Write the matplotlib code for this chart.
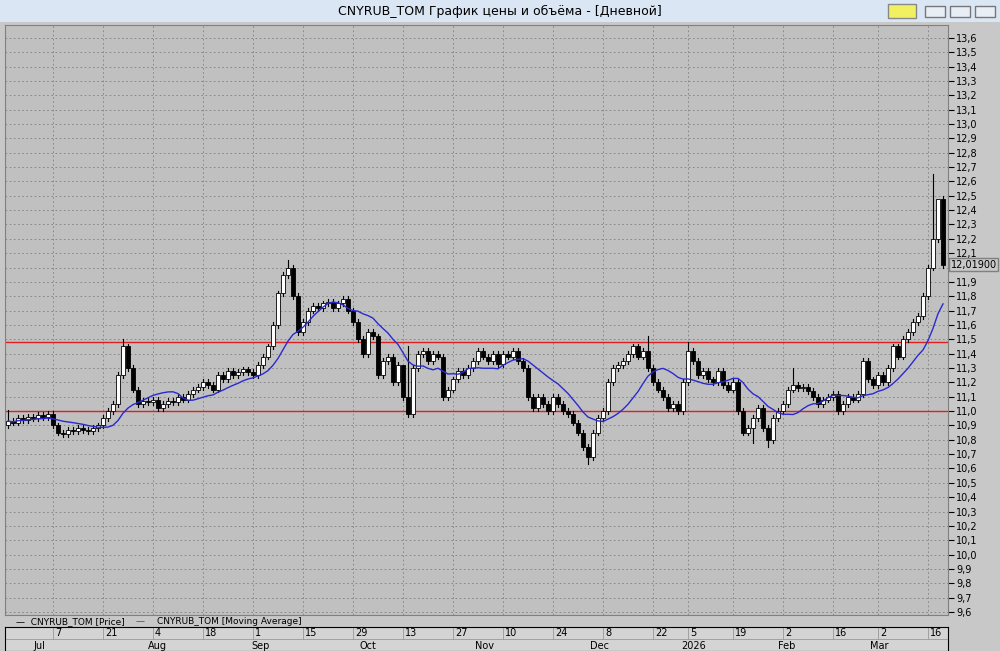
import matplotlib
matplotlib.use("Agg")
import matplotlib.pyplot as plt
from matplotlib.patches import Rectangle
import numpy as np

closes = [10.93,10.92,10.95,10.94,10.96,10.95,10.97,10.96,10.98,
 10.90,10.85,10.84,10.87,10.86,10.88,10.87,10.86,10.88,10.90,
 10.95,11.00,11.05,11.25,11.45,11.30,11.15,11.05,11.07,11.06,
 11.08,11.02,11.05,11.07,11.06,11.10,11.08,11.12,11.15,11.17,
 11.20,11.18,11.15,11.25,11.22,11.28,11.25,11.27,11.29,11.27,
 11.25,11.32,11.38,11.45,11.60,11.82,11.95,12.00,11.80,11.55,
 11.62,11.70,11.73,11.72,11.75,11.76,11.72,11.75,11.78,11.70,
 11.62,11.50,11.40,11.55,11.52,11.25,11.35,11.38,11.20,11.32,
 11.10,10.98,11.30,11.40,11.42,11.35,11.40,11.38,11.10,11.15,
 11.22,11.28,11.25,11.30,11.35,11.42,11.38,11.35,11.40,11.33,
 11.40,11.38,11.42,11.35,11.30,11.10,11.02,11.10,11.05,11.00,
 11.10,11.05,11.00,10.98,10.92,10.85,10.75,10.68,10.85,10.95,
 11.00,11.20,11.30,11.32,11.35,11.40,11.45,11.38,11.42,11.30,
 11.20,11.15,11.10,11.02,11.05,11.00,11.20,
 11.42,11.35,11.25,11.28,11.22,11.20,11.28,11.18,11.15,
 11.20,11.00,10.85,10.88,10.95,11.02,10.88,10.80,10.95,11.00,
 11.05,11.15,11.18,11.16,11.17,11.14,11.10,11.05,11.08,11.10,
 11.12,11.00,11.05,11.10,11.08,11.12,11.35,11.22,11.18,
 11.25,11.20,11.30,11.45,11.38,11.50,11.55,11.62,11.66,
 11.80,12.00,12.20,12.48,12.02]
first_open = 10.90
spike_high = {0: 11.01, 23: 11.50, 56: 12.05, 79: 11.15, 80: 11.45, 116: 10.63, 128: 11.52,
              136: 11.48, 149: 10.78, 152: 10.75, 157: 11.30, 185: 12.65, 186: 12.43}
level_lines = [11.00, 11.48]
last_label = "12,01900"

day_ticks = [9, 19, 29, 39, 49, 59, 69, 79, 89, 99, 109, 119, 129, 136, 145, 155, 165, 174, 184]
day_labels = ["7","21","4","18","1","15","29","13","27","10","24","8","22","5","19","2","16","2","16"]
months = ["Jul","Aug","Sep","Oct","Nov","Dec","2026","Feb","Mar"]
month_px = [33, 148, 251, 360, 475, 590, 681, 778, 870]

n = len(closes)
opens = [first_open] + closes[:-1]
ma = [np.mean(closes[max(0, i-11):i+1]) for i in range(n)]

W, H = 1000, 651
fig = plt.figure(figsize=(W/100, H/100), dpi=100)
fig.patch.set_facecolor("#c8c8c8")

tb = fig.add_axes([0, 1-22/H, 1, 22/H]); tb.set_axis_off()
tb.add_patch(Rectangle((0,0),1,1,transform=tb.transAxes,color="#dbe6f4"))
tb.text(0.5,0.5,"CNYRUB_TOM График цены и объёма - [Дневной]",ha="center",va="center",fontsize=9,family="DejaVu Sans")
tb.add_patch(Rectangle((0.888,0.2),0.028,0.6,transform=tb.transAxes,color="#f0f060",ec="#888"))
for xb in [0.925,0.95,0.975]:
    tb.add_patch(Rectangle((xb,0.25),0.02,0.5,transform=tb.transAxes,fc="#e8eef6",ec="#777"))

ax = fig.add_axes([5/W, 1-615/H, 943/W, 590/H])
ax.set_facecolor("#c0c0c0")
ax.set_xlim(-0.6, 188)
ax.set_ylim(9.579, 13.69)
for i in range(n):
    o, c = opens[i], closes[i]
    hi = spike_high.get(i, max(o, c) + 0.02)
    lo = min(o, c) - 0.02
    if i in (116, 149, 152): lo, hi = spike_high[i], max(o, c) + 0.02
    ax.plot([i, i], [lo, hi], color="black", lw=0.8, zorder=3)
    b = min(o, c); h = max(abs(c - o), 0.008)
    ax.add_patch(Rectangle((i-0.4, b), 0.8, h, fc="white" if c >= o else "black", ec="black", lw=0.6, zorder=4))
ax.plot(range(n), ma, color="#2a2ad0", lw=1, zorder=5)
for lv in level_lines:
    ax.axhline(lv, color="#e02020", lw=1, zorder=2)
ax.set_xticks(day_ticks)
yt = np.round(np.arange(9.6, 13.65, 0.1), 1)
ax.set_yticks(yt)
ax.grid(True, color="#808080", ls=(0,(2,3)), lw=0.6)
ax.tick_params(axis="x", length=0, labelbottom=False)
ax.yaxis.tick_right()
ax.tick_params(axis="y", length=4, labelsize=7, pad=2)
ax.set_yticklabels(["" if abs(v-12.0) < 1e-6 else f"{v:.1f}".replace(".", ",") for v in yt])
for s in ax.spines.values(): s.set_color("#808080")
ax.text(1.003, closes[-1], last_label, transform=ax.get_yaxis_transform(), fontsize=7, va="center",
        bbox=dict(fc="#c8c8c8", ec="#808080", pad=1), zorder=10)

fig.text(16/W, 1-622/H, "—  CNYRUB_TOM [Price]", fontsize=6.5, va="center")
fig.text(136/W, 1-622/H, "—", fontsize=6.5, va="center", color="#4040d0")
fig.text(157/W, 1-622/H, "CNYRUB_TOM [Moving Average]", fontsize=6.5, va="center")

da = fig.add_axes([5/W, 0, 943/W, 24/H]); da.set_xlim(-0.6, 188); da.set_ylim(0, 2)
da.set_facecolor("#d4d4d4"); da.set_xticks([]); da.set_yticks([])
da.axhline(1, color="#999", lw=0.6)
for t, l in zip(day_ticks, day_labels):
    da.axvline(t, ymin=0.5, ymax=1, color="#999", lw=0.6)
    da.text(t+0.4, 1.5, l, fontsize=7, va="center")
for m, p in zip(months, month_px):
    fig.text(p/W, 5/H, m, fontsize=7, va="center")
fig.savefig("out.png", dpi=100)
